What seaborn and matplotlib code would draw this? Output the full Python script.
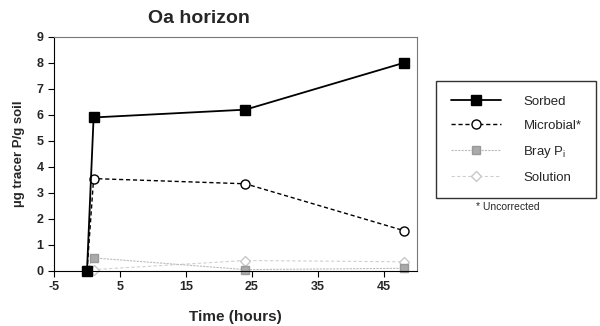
import seaborn as sns
import matplotlib.pyplot as plt
import pandas as pd

# Time points (hours) and tracer P pools (ug/g soil)
hours = [0, 1, 24, 48]
sorbed = [0.0, 5.9, 6.2, 8.0]
microbial = [0.0, 3.55, 3.35, 1.55]
bray = [0.05, 0.5, 0.05, 0.1]
solution = [0.0, 0.05, 0.4, 0.35]

series = ["Sorbed", "Microbial*", "Bray P$_\\mathregular{i}$", "Solution"]
df = pd.DataFrame({
    "hours": hours * 4,
    "value": sorbed + microbial + bray + solution,
    "pool": [s for s in series for _ in hours],
})

sns.set_style("white")
plt.rcParams["font.family"] = ["Liberation Sans", "DejaVu Sans"]
plt.rcParams["axes.unicode_minus"] = False

fig, ax = plt.subplots(figsize=(6, 3.26), dpi=100)
fig.subplots_adjust(left=0.09, right=0.695, top=0.887, bottom=0.169)

styles = {
    series[0]: dict(color="black", ls="-", lw=1.3, marker="s", ms=6.5, mfc="black", mec="black"),
    series[1]: dict(color="black", ls=(0, (3, 2)), lw=1.0, marker="o", ms=6.5, mfc="white", mec="black"),
    series[2]: dict(color="#bbbbbb", ls=(0, (2, 1)), lw=0.8, marker="s", ms=5.5, mfc="#aaaaaa", mec="#999999"),
    series[3]: dict(color="#d0d0d0", ls=(0, (3, 2)), lw=0.8, marker="D", ms=5.5, mfc="white", mec="#c8c8c8"),
}
# draw faint pools first so the main ones sit on top
for name in [series[3], series[2], series[1], series[0]]:
    sub = df[df["pool"] == name]
    st = styles[name]
    sns.lineplot(data=sub, x="hours", y="value", ax=ax, label=name,
                 color=st["color"], linestyle=st["ls"], linewidth=st["lw"],
                 marker=st["marker"], markersize=st["ms"],
                 markerfacecolor=st["mfc"], markeredgecolor=st["mec"],
                 markeredgewidth=1.0, clip_on=False)

ax.set_xlim(-5, 50)
ax.set_ylim(0, 9)
ax.set_xticks([-5, 5, 15, 25, 35, 45])
ax.set_yticks(range(0, 10))
ax.tick_params(axis="both", direction="out", length=4, width=0.8,
               labelsize=9, bottom=True, left=True, color="black")
for lab in ax.get_xticklabels() + ax.get_yticklabels():
    lab.set_fontweight("bold")
for side, sp in ax.spines.items():
    sp.set_visible(True)
    sp.set_linewidth(0.8)
    sp.set_color("black" if side in ("left", "bottom") else "#777777")

ax.set_xlabel("Time (hours)", fontsize=11, fontweight="bold", labelpad=12)
ax.set_ylabel("µg tracer P/g soil", fontsize=9.5, fontweight="bold", labelpad=8)
ax.set_title("Oa horizon", fontsize=14, fontweight="bold", x=0.4, pad=10)

handles, labels = ax.get_legend_handles_labels()
order = [labels.index(s) for s in series]
ax.legend([handles[i] for i in order], [labels[i] for i in order],
          loc="upper left", bbox_to_anchor=(1.035, 0.84), frameon=True,
          fancybox=False, edgecolor="black", fontsize=9.5, handlelength=3.8,
          borderpad=1.1, labelspacing=0.9, handletextpad=1.7)
ax.get_legend().get_frame().set_linewidth(1.0)

fig.text(0.847, 0.355, "* Uncorrected", fontsize=7.5, ha="center")

fig.savefig("out.png", dpi=100)
